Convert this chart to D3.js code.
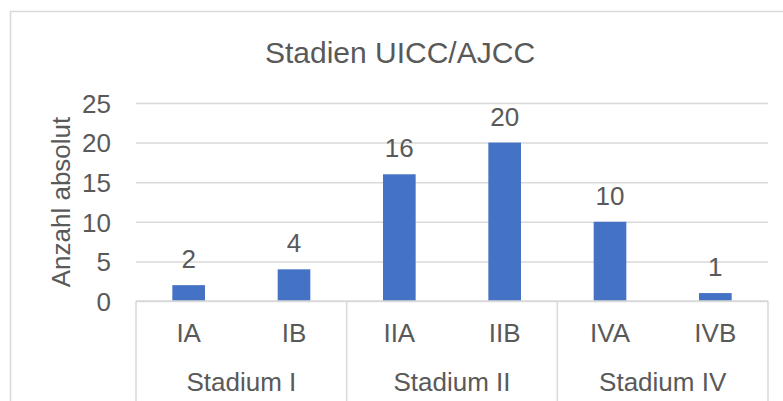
<!DOCTYPE html>
<html>
<head>
<meta charset="utf-8">
<script src="https://cdn.jsdelivr.net/npm/d3@7"></script>
<style>
  html, body { margin: 0; padding: 0; background: #fff; }
  svg { display: block; font-family: "Liberation Sans", Arial, sans-serif; }
</style>
</head>
<body>
<svg id="chart" width="783" height="401"></svg>
<script>
// Stages and their counts
const stages = ["IA", "IB", "IIA", "IIB", "IVA", "IVB"];
const counts = [2, 4, 16, 20, 10, 1];
// Grouping of stages into main stages
const groupNames = ["Stadium I", "Stadium II", "Stadium IV"];
const groupMembers = [["IA", "IB"], ["IIA", "IIB"], ["IVA", "IVB"]];
const yTicks = [0, 5, 10, 15, 20, 25];

const title = "Stadien UICC/AJCC";
const yTitle = "Anzahl absolut";

const W = 783, H = 401;
const plot = { left: 136, right: 768, top: 103, bottom: 301 };
const textColor = "#595959";
const gridColor = "#d9d9d9";
const barColor = "#4472c4";

const svg = d3.select("#chart");

// Chart area border (runs off the right and bottom edges)
svg.append("path")
  .attr("d", `M${W + 5},11.5 H10.5 V${H + 5}`)
  .attr("fill", "none")
  .attr("stroke", gridColor)
  .attr("stroke-width", 1.6);

const x = d3.scaleBand()
  .domain(stages)
  .range([plot.left, plot.right])
  .paddingInner(0.69)
  .paddingOuter(0.345);

const y = d3.scaleLinear()
  .domain([0, 25])
  .range([plot.bottom, plot.top]);

// Title
svg.append("text")
  .attr("x", 400)
  .attr("y", 63)
  .attr("text-anchor", "middle")
  .attr("fill", textColor)
  .style("font-size", "30px")
  .text(title);

// Gridlines and y tick labels
const yAxis = d3.axisLeft(y)
  .tickValues(yTicks)
  .tickSize(-(plot.right - plot.left))
  .tickPadding(25);

const gy = svg.append("g")
  .attr("transform", `translate(${plot.left},0)`)
  .call(yAxis);
gy.select(".domain").remove();
gy.selectAll(".tick line")
  .attr("stroke", gridColor)
  .attr("stroke-width", 1.5);
gy.selectAll(".tick text")
  .attr("fill", textColor)
  .attr("dy", "0.36em")
  .style("font-size", "26px")
  .style("font-family", "\"Liberation Sans\", Arial, sans-serif");

// Y axis title
svg.append("text")
  .attr("transform", `translate(70,${(plot.top + plot.bottom) / 2}) rotate(-90)`)
  .attr("text-anchor", "middle")
  .attr("fill", textColor)
  .style("font-size", "26px")
  .text(yTitle);

// Bars
svg.append("g").selectAll("rect")
  .data(stages)
  .join("rect")
  .attr("x", d => x(d))
  .attr("width", x.bandwidth())
  .attr("y", (d, i) => y(counts[i]))
  .attr("height", (d, i) => y(0) - y(counts[i]))
  .attr("fill", barColor);

// Value labels
svg.append("g").selectAll("text")
  .data(stages)
  .join("text")
  .attr("x", d => x(d) + x.bandwidth() / 2)
  .attr("y", (d, i) => y(counts[i]) - 17)
  .attr("text-anchor", "middle")
  .attr("fill", textColor)
  .style("font-size", "26px")
  .text((d, i) => counts[i]);

// Category axis baseline
svg.append("line")
  .attr("x1", plot.left).attr("x2", plot.right)
  .attr("y1", y(0)).attr("y2", y(0))
  .attr("stroke", gridColor)
  .attr("stroke-width", 1.5);

// Group separators
const step = x.step();
const edges = [x(groupMembers[0][0]) - x.paddingOuter() * step];
groupMembers.forEach(m => {
  edges.push(x(m[m.length - 1]) + x.bandwidth() + x.paddingInner() * step / 2);
});
edges[edges.length - 1] = plot.right;
svg.append("g").selectAll("line")
  .data(edges)
  .join("line")
  .attr("x1", d => d).attr("x2", d => d)
  .attr("y1", y(0)).attr("y2", H + 5)
  .attr("stroke", gridColor)
  .attr("stroke-width", 1.5);

// Stage labels
svg.append("g").selectAll("text")
  .data(stages)
  .join("text")
  .attr("x", d => x(d) + x.bandwidth() / 2)
  .attr("y", 342)
  .attr("text-anchor", "middle")
  .attr("fill", textColor)
  .style("font-size", "26px")
  .text(d => d);

// Group labels
svg.append("g").selectAll("text")
  .data(groupNames)
  .join("text")
  .attr("x", (d, i) => (edges[i] + edges[i + 1]) / 2)
  .attr("y", 390.5)
  .attr("text-anchor", "middle")
  .attr("fill", textColor)
  .style("font-size", "26px")
  .text(d => d);
</script>
</body>
</html>
